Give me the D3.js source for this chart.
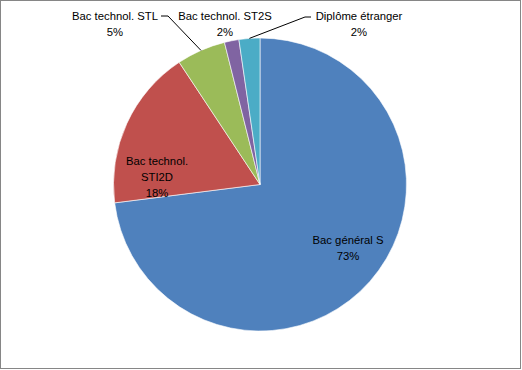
<!DOCTYPE html>
<html>
<head>
<meta charset="utf-8">
<script src="https://d3js.org/d3.v7.min.js"></script>
<style>
  body { margin: 0; background: #fff; }
  text { font-family: "Liberation Sans", Arial, sans-serif; font-size: 11.3px; fill: #000; }
</style>
</head>
<body>
<div id="chart"></div>
<script>
// chart data
var categories = ["Bac général S", "Bac technol. STI2D", "Bac technol. STL", "Bac technol. ST2S", "Diplôme étranger"];
var values = [73.0, 17.7, 5.4, 1.6, 2.3];
var colors = ["#4F81BD", "#C0504D", "#9BBB59", "#8064A2", "#4BACC6"];
// label lines as shown in the chart
var labelLines = [["Bac général S"], ["Bac technol.", "STI2D"], ["Bac technol. STL"], ["Bac technol. ST2S"], ["Diplôme étranger"]];

// layout
var width = 522,
  height = 370,
  cx = 260,
  cy = 184.5,
  radius = 146.5;

// label anchors (centre of first line) and leader line elbows
var labelPos = [
  {x: 348, y: 240},
  {x: 157, y: 161},
  {x: 115, y: 16},
  {x: 225, y: 16},
  {x: 359, y: 16}
];
var leaders = [null, null, {x1: 161, x2: 168, y: 16}, null, {x1: 311, x2: 305, y: 17}];

var svg = d3.select("#chart").append("svg")
    .attr("width", width)
    .attr("height", height);

// chart frame
svg.append("rect")
  .attr("x", 0.5)
  .attr("y", 0.5)
  .attr("width", 520)
  .attr("height", 368)
  .style("fill", "#fff")
  .style("stroke", "#868686")
  .style("stroke-width", 1);

var data = categories.map(function(c, i) { return {name: c, value: values[i], i: i}; });
var total = d3.sum(values);

var pie = d3.pie()
  .sort(null)
  .value(function(d) { return d.value; });

var arc = d3.arc()
  .innerRadius(0)
  .outerRadius(radius);

var g = svg.append("g")
  .attr("transform", "translate(" + cx + "," + cy + ")");

var arcs = pie(data);

g.selectAll("path")
  .data(arcs)
  .enter().append("path")
    .attr("d", arc)
    .style("fill", function(d) { return colors[d.data.i]; })
    .style("stroke", "#fff")
    .style("stroke-width", 0.6);

// leader lines from outside labels to slice edge
arcs.forEach(function(d) {
  var l = leaders[d.data.i];
  if (!l) return;
  var mid = (d.startAngle + d.endAngle) / 2;
  var px = cx + radius * Math.sin(mid),
    py = cy - radius * Math.cos(mid);
  svg.append("polyline")
    .attr("points", l.x1 + "," + l.y + " " + l.x2 + "," + l.y + " " + px + "," + py)
    .style("fill", "none")
    .style("stroke", "#000")
    .style("stroke-width", 1);
});

// labels
arcs.forEach(function(d) {
  var i = d.data.i;
  var lines = labelLines[i].concat([Math.round(d.data.value / total * 100) + "%"]);
  var t = svg.append("text")
    .attr("text-anchor", "middle")
    .attr("x", labelPos[i].x)
    .attr("y", labelPos[i].y);
  lines.forEach(function(s, k) {
    t.append("tspan")
      .attr("x", labelPos[i].x)
      .attr("dy", k == 0 ? "0.35em" : 16)
      .text(s);
  });
});
</script>
</body>
</html>
